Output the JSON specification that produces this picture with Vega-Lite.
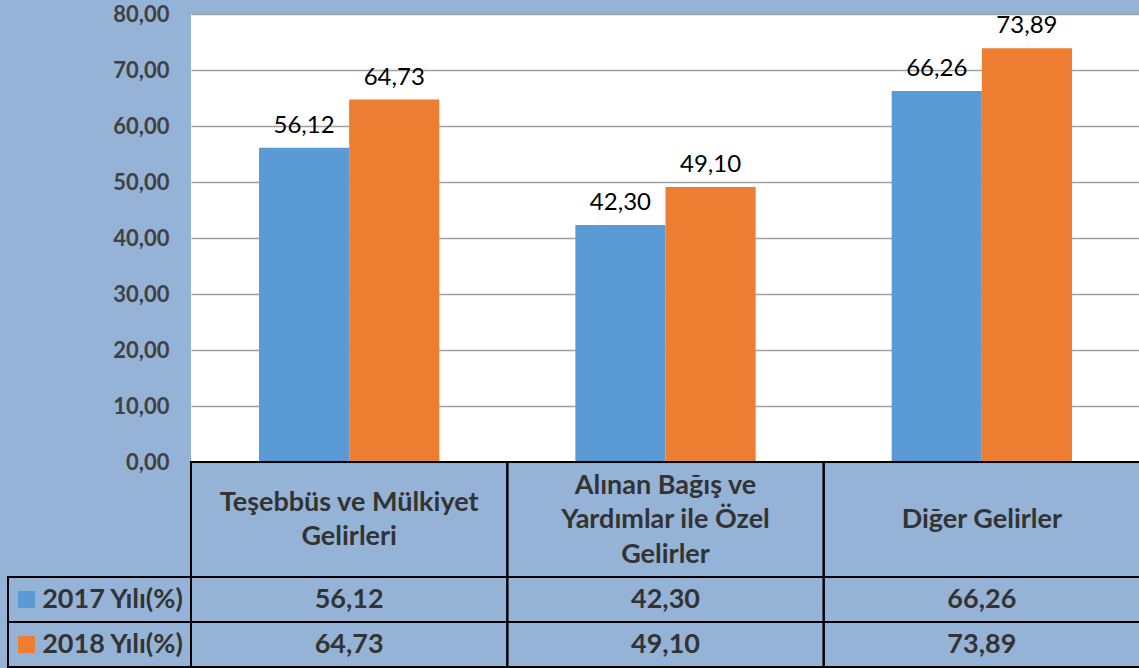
{
  "$schema": "https://vega.github.io/schema/vega-lite/v6.json",
  "background": "#95B3D7",
  "padding": {"left": 7, "top": 3, "right": 0, "bottom": 0},
  "config": {
    "view": {"stroke": null},
    "font": "Lato",
    "locale": {"number": {"decimal": ",", "thousands": ".", "grouping": [3], "currency": ["", " TL"]}}
  },
  "datasets": {
    "gelir": [
      {"kategori": "Teşebbüs ve Mülkiyet Gelirleri", "yil": "2017 Yılı(%)", "deger": 56.12},
      {"kategori": "Teşebbüs ve Mülkiyet Gelirleri", "yil": "2018 Yılı(%)", "deger": 64.73},
      {"kategori": "Alınan Bağış ve Yardımlar ile Özel Gelirler", "yil": "2017 Yılı(%)", "deger": 42.30},
      {"kategori": "Alınan Bağış ve Yardımlar ile Özel Gelirler", "yil": "2018 Yılı(%)", "deger": 49.10},
      {"kategori": "Diğer Gelirler", "yil": "2017 Yılı(%)", "deger": 66.26},
      {"kategori": "Diğer Gelirler", "yil": "2018 Yılı(%)", "deger": 73.89}
    ],
    "kategoriler": [
      {"kategori": "Teşebbüs ve Mülkiyet Gelirleri", "etiket": "Teşebbüs ve Mülkiyet\nGelirleri"},
      {"kategori": "Alınan Bağış ve Yardımlar ile Özel Gelirler", "etiket": "Alınan Bağış ve\nYardımlar ile Özel\nGelirler"},
      {"kategori": "Diğer Gelirler", "etiket": "Diğer Gelirler"}
    ],
    "yillar": [
      {"yil": "2017 Yılı(%)"},
      {"yil": "2018 Yılı(%)"}
    ]
  },
  "columns": 2,
  "spacing": 0,
  "bounds": "flush",
  "align": "each",
  "concat": [
    {
      "width": 183,
      "height": 448,
      "data": {"values": []},
      "mark": "point",
      "encoding": {}
    },
    {
      "width": 949,
      "height": 448,
      "view": {"fill": "white"},
      "data": {"name": "gelir"},
      "encoding": {
        "x": {"field": "kategori", "type": "nominal", "sort": null, "axis": null,
              "scale": {"paddingInner": 0.43, "paddingOuter": 0.215}},
        "xOffset": {"field": "yil", "type": "nominal", "sort": null,
                    "scale": {"paddingInner": 0, "paddingOuter": 0}},
        "y": {"field": "deger", "type": "quantitative",
              "scale": {"domain": [0, 80]},
              "axis": {"values": [0, 10, 20, 30, 40, 50, 60, 70, 80], "format": ".2f", "title": null,
                       "ticks": false, "domain": false, "labelFontWeight": "bold", "labelFontSize": 22,
                       "labelColor": "#404040", "labelPadding": 22, "gridColor": "#A0A0A0", "gridWidth": 1.5}}
      },
      "layer": [
        {
          "mark": {"type": "bar"},
          "encoding": {
            "color": {"field": "yil", "type": "nominal", "legend": null,
                      "scale": {"domain": ["2017 Yılı(%)", "2018 Yılı(%)"], "range": ["#5B9BD5", "#ED7D31"]}}
          }
        },
        {
          "mark": {"type": "text", "baseline": "bottom", "dy": -10, "fontSize": 24, "color": "black"},
          "encoding": {"text": {"field": "deger", "type": "quantitative", "format": ".2f"}}
        }
      ]
    },
    {
      "width": 183,
      "height": 115,
      "data": {"values": []},
      "mark": "point",
      "encoding": {}
    },
    {
      "width": 949,
      "height": 115,
      "data": {"name": "kategoriler"},
      "encoding": {
        "x": {"field": "kategori", "type": "nominal", "sort": null, "axis": null, "scale": {"padding": 0}}
      },
      "layer": [
        {"mark": {"type": "rect", "fill": "transparent", "stroke": "black", "strokeWidth": 2}},
        {
          "transform": [{"filter": "length(split(datum.etiket, '\\n')) == 1"}],
          "mark": {"type": "text", "fontSize": 27, "fontWeight": "bold", "color": "#333333",
                   "lineBreak": "\n", "lineHeight": 34.5, "baseline": "middle", "dy": 0},
          "encoding": {"text": {"field": "etiket", "type": "nominal"}}
        },
        {
          "transform": [{"filter": "length(split(datum.etiket, '\\n')) == 2"}],
          "mark": {"type": "text", "fontSize": 27, "fontWeight": "bold", "color": "#333333",
                   "lineBreak": "\n", "lineHeight": 34.5, "baseline": "middle", "dy": -17},
          "encoding": {"text": {"field": "etiket", "type": "nominal"}}
        },
        {
          "transform": [{"filter": "length(split(datum.etiket, '\\n')) == 3"}],
          "mark": {"type": "text", "fontSize": 27, "fontWeight": "bold", "color": "#333333",
                   "lineBreak": "\n", "lineHeight": 34.5, "baseline": "middle", "dy": -34},
          "encoding": {"text": {"field": "etiket", "type": "nominal"}}
        }
      ]
    },
    {
      "width": 183,
      "height": 90,
      "data": {"name": "yillar"},
      "encoding": {
        "y": {"field": "yil", "type": "nominal", "sort": null, "axis": null, "scale": {"padding": 0}}
      },
      "layer": [
        {"mark": {"type": "rect", "fill": "transparent", "stroke": "black", "strokeWidth": 2}},
        {
          "mark": {"type": "point", "shape": "square", "filled": true, "size": 289, "opacity": 1, "xOffset": -73},
          "encoding": {
            "color": {"field": "yil", "type": "nominal", "legend": null,
                      "scale": {"domain": ["2017 Yılı(%)", "2018 Yılı(%)"], "range": ["#5B9BD5", "#ED7D31"]}}
          }
        },
        {
          "mark": {"type": "text", "fontSize": 27, "fontWeight": "bold", "color": "#333333", "dx": 13, "baseline": "middle"},
          "encoding": {"text": {"field": "yil", "type": "nominal"}}
        }
      ]
    },
    {
      "width": 949,
      "height": 90,
      "data": {"name": "gelir"},
      "encoding": {
        "x": {"field": "kategori", "type": "nominal", "sort": null, "axis": null, "scale": {"padding": 0}},
        "y": {"field": "yil", "type": "nominal", "sort": null, "axis": null, "scale": {"padding": 0}}
      },
      "layer": [
        {"mark": {"type": "rect", "fill": "transparent", "stroke": "black", "strokeWidth": 2}},
        {
          "mark": {"type": "text", "fontSize": 27, "fontWeight": "bold", "color": "#333333", "baseline": "middle"},
          "encoding": {"text": {"field": "deger", "type": "quantitative", "format": ".2f"}}
        }
      ]
    }
  ]
}
